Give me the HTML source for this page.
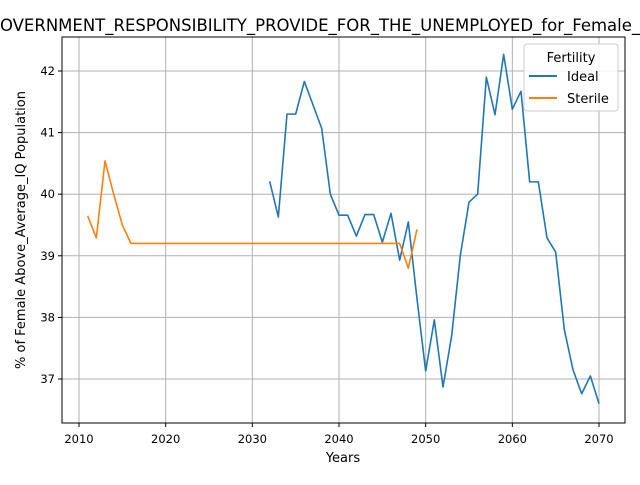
<!DOCTYPE html>
<html><head><meta charset="utf-8"><style>
body{margin:0;background:#fff;font-family:"Liberation Sans","DejaVu Sans",sans-serif}
svg text{font-family:"DejaVu Sans","Liberation Sans",sans-serif}
</style></head><body>
<svg id="chart" width="640" height="480">
<rect width="640" height="480" fill="#fff"/>
<g id="grid"></g>
<g id="series"></g>
<rect x="62" y="37" width="563" height="386" fill="none" stroke="#000" stroke-width="1"/>
<g id="ticks"></g>
<text x="357" y="31" text-anchor="middle" font-size="16.5">GOVERNMENT_RESPONSIBILITY_PROVIDE_FOR_THE_UNEMPLOYED_for_Female_Population</text>
<text x="343" y="462" text-anchor="middle" font-size="13">Years</text>
<text transform="translate(25,230) rotate(-90)" text-anchor="middle" font-size="13">% of Female Above_Average_IQ Population</text>
<g>
<rect x="524" y="44" width="94" height="67" rx="3" fill="#fff" fill-opacity="0.8" stroke="#ccc"/>
<text x="571" y="62" text-anchor="middle" font-size="13">Fertility</text>
<line x1="529" y1="76" x2="557" y2="76" stroke="#1f77b4" stroke-width="2"/>
<text x="567" y="81" font-size="13">Ideal</text>
<line x1="529" y1="98" x2="557" y2="98" stroke="#ff7f0e" stroke-width="2"/>
<text x="567" y="103" font-size="13">Sterile</text>
</g>
</svg>
<script>
const idealYears = [2032,2033,2034,2035,2036,2037,2038,2039,2040,2041,2042,2043,2044,2045,2046,2047,2048,2049,2050,2051,2052,2053,2054,2055,2056,2057,2058,2059,2060,2061,2062,2063,2064,2065,2066,2067,2068,2069,2070];
const idealValues = [40.21,39.63,41.3,41.3,41.83,41.45,41.07,40.0,39.66,39.66,39.32,39.67,39.67,39.22,39.69,38.93,39.55,38.3,37.13,37.96,36.87,37.7,39.01,39.87,40.0,41.9,41.29,42.27,41.38,41.67,40.2,40.2,39.29,39.06,37.8,37.15,36.76,37.05,36.6];
const sterileYears = [2011,2012,2013,2014,2015,2016,2017,2018,2019,2020,2021,2022,2023,2024,2025,2026,2027,2028,2029,2030,2031,2032,2033,2034,2035,2036,2037,2038,2039,2040,2041,2042,2043,2044,2045,2046,2047,2048,2049];
const sterileValues = [39.65,39.29,40.54,40.0,39.5,39.2,39.2,39.2,39.2,39.2,39.2,39.2,39.2,39.2,39.2,39.2,39.2,39.2,39.2,39.2,39.2,39.2,39.2,39.2,39.2,39.2,39.2,39.2,39.2,39.2,39.2,39.2,39.2,39.2,39.2,39.2,39.2,38.8,39.43];
const xTicks = [2010,2020,2030,2040,2050,2060,2070];
const yTicks = [37,38,39,40,41,42];
const NS='http://www.w3.org/2000/svg';
const sx = v => 79 + (v-2010)*520/60;
const sy = v => 71 + (42-v)*61.6;
const grid=document.getElementById('grid'), ticks=document.getElementById('ticks'), series=document.getElementById('series');
function mk(tag, attrs, parent){const e=document.createElementNS(NS,tag);for(const k in attrs)e.setAttribute(k,attrs[k]);parent.appendChild(e);return e;}
xTicks.forEach(t=>{
  const g=mk('line',{x1:sx(t),x2:sx(t),y1:37,y2:423,stroke:'#b0b0b0','stroke-width':1},grid);
  
  
  mk('line',{x1:sx(t),x2:sx(t),y1:423,y2:427,stroke:'#000'},ticks);
  const tx=mk('text',{x:sx(t),y:443,'text-anchor':'middle','font-size':11.5},ticks);
  tx.textContent=t;
  
  
});
yTicks.forEach(t=>{
  const g=mk('line',{x1:62,x2:625,y1:sy(t),y2:sy(t),stroke:'#b0b0b0','stroke-width':1},grid);
  
  
  mk('line',{x1:58,x2:62,y1:sy(t),y2:sy(t),stroke:'#000'},ticks);
  const tx=mk('text',{x:55,y:sy(t)+4,'text-anchor':'end','font-size':11.5},ticks);
  tx.textContent=t;
  
  
});
function line(xs,ys,color,name){
  const p=mk('polyline',{points:xs.map((x,i)=>sx(x)+','+sy(ys[i])).join(' '),fill:'none',stroke:color,'stroke-width':1.6,'stroke-linejoin':'round'},series);
  
  
}
line(idealYears,idealValues,'#1f77b4','ideal-line');
line(sterileYears,sterileValues,'#ff7f0e','sterile-line');
</script>
</body></html>
